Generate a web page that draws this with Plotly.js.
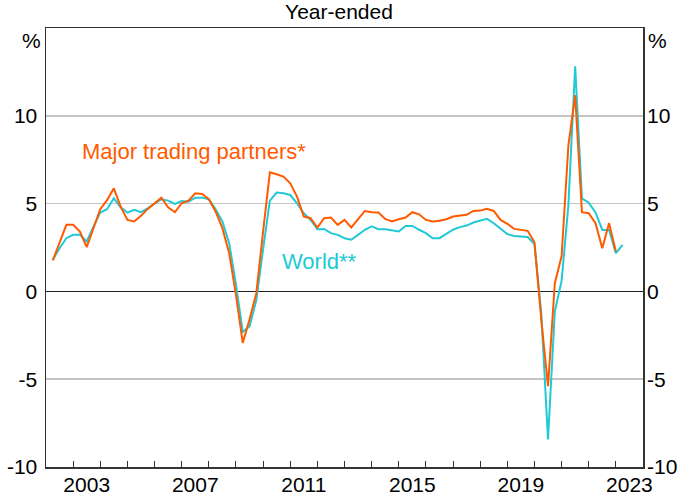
<!DOCTYPE html>
<html>
<head>
<meta charset="utf-8">
<script src="https://cdn.plot.ly/plotly-3.0.1.min.js"></script>
<style>html,body{margin:0;padding:0;background:#fff}#chart{width:678px;height:501px}</style>
</head>
<body>
<div id="chart"></div>
<script>
// Quarterly, year-ended GDP growth (%), first quarter = 2002 Q1
const startYear = 2002, startQuarter = 1;
const majorTradingPartners = [
  1.76, 2.75, 3.79, 3.79, 3.41, 2.52, 3.6, 4.68, 5.2, 5.87,
  4.83, 4.07, 3.98, 4.3, 4.7, 5.02, 5.34, 4.79, 4.51, 5.02,
  5.17, 5.59, 5.55, 5.25, 4.55, 3.6, 2.18, -0.2, -2.93, -1.6,
  -0.1, 3.4, 6.78, 6.67, 6.54, 6.16, 5.4, 4.26, 4.17, 3.64,
  4.17, 4.21, 3.79, 4.07, 3.64, 4.11, 4.58, 4.51, 4.49, 4.13,
  3.98, 4.11, 4.21, 4.51, 4.39, 4.07, 3.98, 4.02, 4.11, 4.26,
  4.32, 4.36, 4.58, 4.6, 4.7, 4.58, 4.07, 3.85, 3.56, 3.51,
  3.45, 2.8, -1.6, -5.4, 0.47, 2.0, 8.3, 11.17, 4.51, 4.45,
  3.88, 2.46, 3.88, 2.27
];
const world = [
  1.8, 2.46, 3.03, 3.22, 3.22, 2.84, 3.69, 4.49, 4.68, 5.3,
  4.79, 4.49, 4.64, 4.51, 4.73, 4.98, 5.25, 5.17, 4.98, 5.15,
  5.11, 5.34, 5.34, 5.25, 4.68, 3.98, 2.75, 0.4, -2.3, -2.0,
  -0.5, 2.4, 5.17, 5.63, 5.59, 5.49, 5.02, 4.45, 4.07, 3.54,
  3.56, 3.32, 3.22, 3.03, 2.94, 3.22, 3.51, 3.7, 3.54, 3.54,
  3.47, 3.41, 3.73, 3.73, 3.51, 3.32, 3.03, 3.03, 3.28, 3.51,
  3.66, 3.75, 3.92, 4.02, 4.13, 3.88, 3.56, 3.26, 3.16, 3.13,
  3.1, 2.7, -1.2, -8.43, -1.14, 0.6, 4.9, 12.82, 5.3, 5.05,
  4.5, 3.5, 3.5, 2.18, 2.65
];
const yTicks = [-10, -5, 0, 5, 10];
const yTickText = ['-10', '-5', '0', '5', '10'];
const yearLabels = ['2003', '2007', '2011', '2015', '2019', '2023'];
const yearTicks = [];
for (let y = 2003; y <= 2023; y++) yearTicks.push(y);

// quarter-end positions in decimal years
function quarterPositions(n) {
  const out = [];
  for (let i = 0; i < n; i++) {
    const q = startQuarter - 1 + i;
    out.push(startYear + Math.floor(q / 4) + ((q % 4) + 1) / 4);
  }
  return out;
}

const ORANGE = '#FF5A00';
const CYAN = '#20C9D6';
const FONT = 'Liberation Sans, Arial, sans-serif';
const TICK_SIZE = 21;

const traces = [
  {x: quarterPositions(world.length), y: world, type: 'scatter', mode: 'lines',
   line: {color: CYAN, width: 2}, hoverinfo: 'skip'},
  {x: quarterPositions(majorTradingPartners.length), y: majorTradingPartners, type: 'scatter', mode: 'lines',
   line: {color: ORANGE, width: 2}, hoverinfo: 'skip'},
  {x: [2010], y: [0], xaxis: 'x2', yaxis: 'y2', type: 'scatter', mode: 'none', hoverinfo: 'skip', showlegend: false}
];

const layout = {
  width: 678, height: 501,
  margin: {l: 46, r: 35, t: 28, b: 34},
  paper_bgcolor: '#fff', plot_bgcolor: '#fff',
  showlegend: false,
  font: {family: FONT, size: TICK_SIZE, color: '#000'},
  title: {text: 'Year-ended', font: {family: FONT, size: 21, color: '#000'},
          x: 0.5, xref: 'container', y: 0.977, yref: 'container', yanchor: 'middle'},
  xaxis: {
    range: [2002, 2024], tickmode: 'array', tickvals: yearTicks, ticks: 'inside', ticklen: 6,
    tickcolor: '#333', tickwidth: 1, showticklabels: false, showgrid: false, zeroline: false,
    showline: true, mirror: true, linecolor: '#333', linewidth: 1.5
  },
  xaxis2: {
    overlaying: 'x', anchor: 'y', side: 'bottom', range: [2002, 2024], tickmode: 'array',
    tickvals: yearLabels.map(s => Number(s) + 0.5), ticktext: yearLabels, ticks: '',
    showgrid: false, zeroline: false, showline: false, ticklabelstandoff: 3,
    tickfont: {family: FONT, size: TICK_SIZE, color: '#000'}
  },
  yaxis: {
    range: [-10, 15], tickmode: 'array', tickvals: yTicks, ticktext: yTickText, ticks: '',
    showgrid: true, gridcolor: '#C4C4C4', gridwidth: 1.5, zeroline: true, zerolinecolor: '#222', zerolinewidth: 1.5,
    showline: true, mirror: true, linecolor: '#333', linewidth: 1.5, ticklabelstandoff: 3,
    tickfont: {family: FONT, size: TICK_SIZE, color: '#000'}
  },
  yaxis2: {
    overlaying: 'y', side: 'right', anchor: 'x', range: [-10, 15], tickmode: 'array', tickvals: yTicks,
    ticktext: yTickText, ticks: '', showgrid: false, zeroline: false, showline: false, ticklabelstandoff: 3,
    tickfont: {family: FONT, size: TICK_SIZE, color: '#000'}
  },
  annotations: [
    {xref: 'paper', yref: 'paper', x: 0, y: 1, xanchor: 'right', yanchor: 'top', xshift: -3, yshift: 1,
     text: '%', showarrow: false, font: {family: FONT, size: TICK_SIZE, color: '#000'}},
    {xref: 'paper', yref: 'paper', x: 1, y: 1, xanchor: 'left', yanchor: 'top', xshift: 3, yshift: 1,
     text: '%', showarrow: false, font: {family: FONT, size: TICK_SIZE, color: '#000'}},
    {xref: 'x', yref: 'y', x: 2003.25, y: 7.94, xanchor: 'left', yanchor: 'middle',
     text: 'Major trading partners*', showarrow: false, font: {family: FONT, size: 22, color: ORANGE}},
    {xref: 'x', yref: 'y', x: 2010.63, y: 1.69, xanchor: 'left', yanchor: 'middle',
     text: 'World**', showarrow: false, font: {family: FONT, size: 22, color: CYAN}}
  ]
};

Plotly.newPlot('chart', traces, layout, {staticPlot: true, displayModeBar: false});
</script>
</body>
</html>
